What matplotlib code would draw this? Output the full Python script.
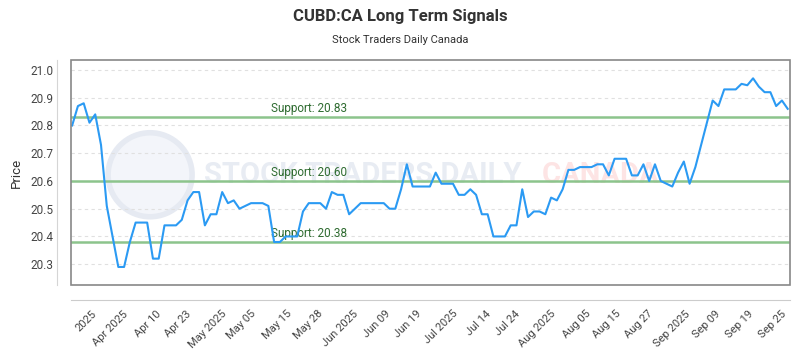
import matplotlib
matplotlib.use("Agg")
import matplotlib.pyplot as plt
from matplotlib.patches import Rectangle, Ellipse
import numpy as np

plt.rcParams['font.family'] = ['Roboto', 'DejaVu Sans']

title = "CUBD:CA Long Term Signals"
subtitle = "Stock Traders Daily Canada"

prices = [
    20.80, 20.87, 20.88, 20.81, 20.84, 20.73, 20.51, 20.40, 20.29, 20.29,
    20.38, 20.45, 20.45, 20.45, 20.32, 20.32, 20.44, 20.44, 20.44, 20.46,
    20.53, 20.56, 20.56, 20.44, 20.48, 20.48, 20.56, 20.52, 20.53, 20.50,
    20.51, 20.52, 20.52, 20.52, 20.51, 20.38, 20.38, 20.40, 20.40, 20.40,
    20.49, 20.52, 20.52, 20.52, 20.50, 20.56, 20.55, 20.55, 20.48, 20.50,
    20.52, 20.52, 20.52, 20.52, 20.52, 20.50, 20.50, 20.57, 20.66, 20.58,
    20.58, 20.58, 20.58, 20.63, 20.59, 20.59, 20.59, 20.55, 20.55, 20.57,
    20.55, 20.48, 20.48, 20.40, 20.40, 20.40, 20.44, 20.44, 20.57, 20.47,
    20.49, 20.49, 20.48, 20.54, 20.53, 20.57, 20.64, 20.64, 20.65, 20.65,
    20.65, 20.66, 20.66, 20.62, 20.68, 20.68, 20.68, 20.62, 20.62, 20.66,
    20.60, 20.66, 20.60, 20.59, 20.58, 20.63, 20.67, 20.59, 20.65, 20.73,
    20.81, 20.89, 20.87, 20.93, 20.93, 20.93, 20.95, 20.945, 20.97, 20.94,
    20.92, 20.92, 20.87, 20.89, 20.86,
]

tick_labels = ["2025", "Apr 2025", "Apr 10", "Apr 23", "May 2025", "May 05",
               "May 15", "May 28", "Jun 2025", "Jun 09", "Jun 19", "Jul 2025",
               "Jul 14", "Jul 24", "Aug 2025", "Aug 05", "Aug 15", "Aug 27",
               "Sep 2025", "Sep 09", "Sep 19", "Sep 25"]
tick_index = [3.3, 8.8, 14.6, 19.8, 25.8, 31.0, 37.1, 42.6, 48.7, 54.2, 59.6,
              66.0, 71.7, 76.7, 82.9, 88.9, 94.1, 99.8, 106.2, 111.4, 117.2, 122.9]

support_levels = [20.83, 20.60, 20.38]
y_ticks = [20.3, 20.4, 20.5, 20.6, 20.7, 20.8, 20.9, 21.0]

x = np.arange(len(prices))

fig = plt.figure(figsize=(8, 3.5), dpi=100)
fig.patch.set_facecolor('white')
ax = fig.add_axes([71/800, 1-285/350, 719/800, 225/350])

ax.set_xlim(-0.2, len(prices) - 1 + 0.4)
ax.set_ylim(20.225, 21.036)

# watermark
ax.add_patch(Ellipse((0.11, 0.49), 84/719, 84/225, transform=ax.transAxes,
                     facecolor='#f3f5fa', edgecolor='#e6eaf2', lw=4, zorder=0))
ax.text(0.185, 0.49, "STOCK TRADERS DAILY", transform=ax.transAxes, fontsize=21,
        fontweight='bold', color='#e8ecf3', va='center', ha='left', zorder=0)
ax.text(0.655, 0.49, "CANADA", transform=ax.transAxes, fontsize=21,
        fontweight='bold', color='#fde4e4', va='center', ha='left', zorder=0)

# grid
for yv in y_ticks:
    ax.axhline(yv, color='#e0e0e0', lw=0.8, ls=(0, (3, 3)), zorder=1)

# support lines
for lvl in support_levels:
    ax.axhline(lvl, color='#8cc48c', lw=1.8, zorder=2)
    ax.text(0.278, lvl + 0.008, f"Support: {lvl:.2f}", transform=ax.get_yaxis_transform(),
            color='#2e6b30', fontsize=8.5, ha='left', va='bottom', zorder=3)

ax.plot(x, prices, color='#2b9af3', lw=1.5, zorder=4)

# frame
for s in ax.spines.values():
    s.set_visible(False)
ax.add_patch(Rectangle((0, 0), 1, 1, transform=ax.transAxes, fill=False,
                       edgecolor='#888888', lw=1.2, clip_on=False, zorder=5))
ax.spines['bottom'].set_visible(True)
ax.spines['bottom'].set_position(('outward', 11))
ax.spines['bottom'].set_color('#cccccc')
ax.spines['left'].set_visible(True)
ax.spines['left'].set_position(('outward', 10))
ax.spines['left'].set_color('#d5d5d5')

ax.set_yticks(y_ticks)
ax.set_yticklabels([f"{v:.1f}" for v in y_ticks], fontsize=8.5, color='#444444')
ax.set_xticks(tick_index)
ax.set_xticklabels(tick_labels, rotation=45, ha='right', rotation_mode='anchor',
                   fontsize=8, color='#444444')
ax.tick_params(axis='both', length=0, pad=3)
ax.tick_params(axis='x', pad=6)

ax.set_ylabel("Price", fontsize=9.5, color='#333333', labelpad=5)

fig.text(0.5, 1 - 16/350, title, ha='center', va='center', fontsize=12,
         fontweight='bold', color='#333333')
fig.text(0.5, 1 - 40/350, subtitle, ha='center', va='center', fontsize=8,
         color='#333333')

fig.savefig("out.png", dpi=100, facecolor='white')
